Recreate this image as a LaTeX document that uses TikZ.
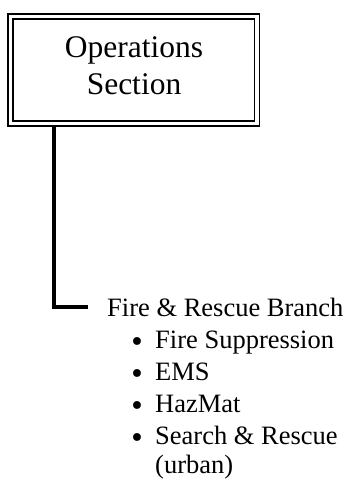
\documentclass[tikz,border=0pt]{standalone}
\usepackage{fontspec}
\setmainfont{Liberation Serif}
\newfontfamily\simbolos{DejaVu Sans}
\usetikzlibrary{positioning}
\definecolor{tinta}{HTML}{000000}
\tikzset{
  cajadoble/.style={draw=tinta,double,double distance=3.2pt,line width=1.8pt,minimum width=246.5pt,minimum height=107pt,inner sep=0pt,outer sep=0pt},
  titulo/.style={align=center,font=\fontsize{31.5}{36.5}\selectfont,inner sep=0pt},
  rama/.style={anchor=base west,font=\fontsize{26.5}{32}\selectfont,inner sep=0pt},
  punto/.style={anchor=base,font=\simbolos\fontsize{27}{32}\selectfont,inner sep=0pt,yshift=-2.5pt},
  linea/.style={draw=tinta,line width=3.5pt,line join=miter},
}
\begin{document}
\begin{tikzpicture}[x=1pt,y=1pt]
\useasboundingbox (0,0) rectangle (348,-480);
\node[cajadoble] (seccion) at (133.75,-70) {};
\node[titulo] (titulo) at (134,-65.5) {Operations\\Section};
\node[rama] (bomberos) at (107,-316) {Fire \& Rescue Branch};
\coordinate (pie) at ([xshift=43.5pt,yshift=-2.5pt]seccion.south west);
\coordinate (codo) at ([xshift=-19pt]bomberos.west);
\draw[linea] (pie) |- (codo);
\node[punto] (p1) at (137,-348.5) {•};
\node[rama] (supresion) at (155,-348.5) {Fire Suppression};
\node[punto] (p2) at (137,-380.7) {•};
\node[rama] (ems) at (155,-380.7) {EMS};
\node[punto] (p3) at (137,-412.7) {•};
\node[rama] (hazmat) at (155,-412.7) {HazMat};
\node[punto] (p4) at (137,-444.8) {•};
\node[rama] (busqueda) at (155,-444.8) {Search \& Rescue};
\node[rama] (urbano) at (155,-473.5) {(urban)};
\end{tikzpicture}
\end{document}
